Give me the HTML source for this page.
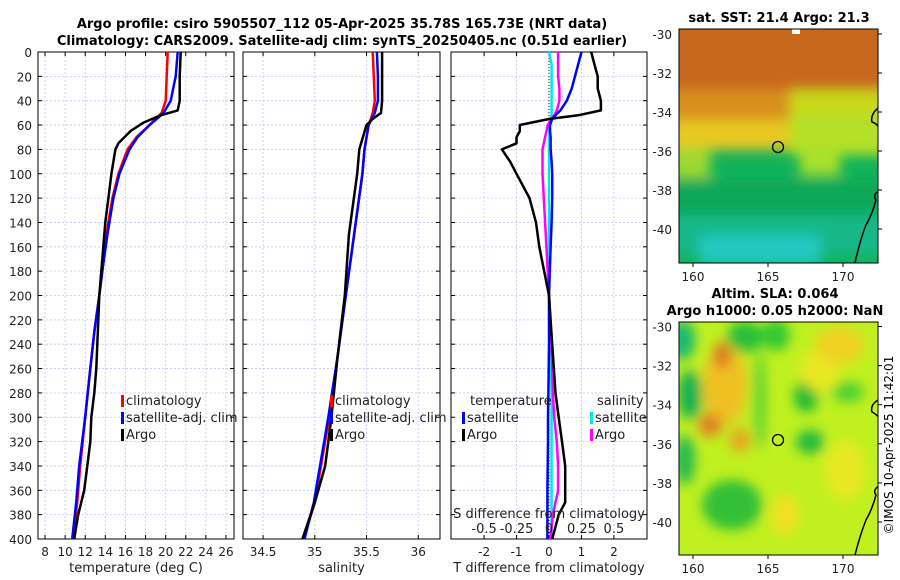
<!DOCTYPE html>
<html><head><meta charset="utf-8">
<style>
body{margin:0;background:#fff;}
svg{display:block;font-family:"DejaVu Sans","Liberation Sans",sans-serif;}
</style></head>
<body>
<svg id="fig" width="900" height="580" viewBox="0 0 900 580" xmlns="http://www.w3.org/2000/svg">
<defs>
<filter id="blur6" x="-20%" y="-20%" width="140%" height="140%"><feGaussianBlur stdDeviation="6"/></filter>
<clipPath id="m1clip"><rect x="679" y="29" width="199" height="234"/></clipPath>
<clipPath id="m2clip"><rect x="679" y="322" width="199" height="233"/></clipPath>
</defs>
<text x="342" y="28" font-size="13" font-weight="bold" text-anchor="middle">Argo profile: csiro 5905507_112 05-Apr-2025 35.78S 165.73E (NRT data)</text>
<text x="342" y="45" font-size="13" font-weight="bold" text-anchor="middle">Climatology: CARS2009. Satellite-adj clim: synTS_20250405.nc (0.51d earlier)</text>
<g id="panels"></g>

<g>
<g clip-path="url(#m1clip)">
<rect x="679" y="29" width="199" height="234" fill="#12b35a"/>
<g filter="url(#blur6)">
<rect x="670" y="20" width="220" height="80" fill="#c8681c"/>
<rect x="670" y="90" width="130" height="40" fill="#d8901e"/>
<rect x="790" y="90" width="100" height="30" fill="#c8d81c"/>
<rect x="670" y="120" width="130" height="30" fill="#e8c820"/>
<rect x="790" y="115" width="100" height="40" fill="#b4e028"/>
<rect x="670" y="148" width="40" height="30" fill="#9ed832"/>
<rect x="800" y="150" width="40" height="25" fill="#a8e02a"/>
<rect x="670" y="180" width="220" height="35" fill="#10a858"/>
<rect x="670" y="215" width="220" height="40" fill="#14b88a"/>
<rect x="700" y="235" width="120" height="30" fill="#20c8c0"/>
</g>
<rect x="792" y="29" width="8" height="5" fill="#fff"/>
<path d="M878 108 Q870 115 872 122 Q878 124 880 130" fill="none" stroke="#000" stroke-width="1.5"/>
<path d="M880 190 Q872 195 876 200 Q872 215 866 225 Q860 240 855 263" fill="none" stroke="#000" stroke-width="1.5"/>
<circle cx="778" cy="147" r="5.5" fill="none" stroke="#000" stroke-width="1.3"/>
</g>
<rect x="679" y="29" width="199" height="234" fill="none" stroke="#000"/>
</g>
<text x="779" y="22" font-size="13" font-weight="bold" text-anchor="middle">sat. SST: 21.4 Argo: 21.3</text>

<g>
<g clip-path="url(#m2clip)">
<rect x="679" y="322" width="199" height="233" fill="#c0f020"/>
<g filter="url(#blur6)">
<ellipse cx="683" cy="340" rx="12" ry="20" fill="#14b870"/>
<ellipse cx="690" cy="395" rx="12" ry="25" fill="#18b050"/>
<ellipse cx="685" cy="460" rx="10" ry="25" fill="#20b850"/>
<ellipse cx="745" cy="337" rx="18" ry="16" fill="#28c038"/>
<ellipse cx="776" cy="335" rx="14" ry="16" fill="#30c830"/>
<ellipse cx="806" cy="396" rx="12" ry="16" fill="#18b838"/>
<ellipse cx="810" cy="442" rx="14" ry="12" fill="#20b840"/>
<ellipse cx="820" cy="370" rx="20" ry="22" fill="#e8e820"/>
<ellipse cx="840" cy="345" rx="25" ry="18" fill="#f0d020"/>
<ellipse cx="848" cy="392" rx="16" ry="10" fill="#48d030"/>
<ellipse cx="725" cy="385" rx="22" ry="40" fill="#f0c020"/>
<ellipse cx="722" cy="355" rx="8" ry="14" fill="#e07020"/>
<ellipse cx="710" cy="425" rx="12" ry="12" fill="#e08020"/>
<ellipse cx="740" cy="440" rx="10" ry="12" fill="#e8a020"/>
<ellipse cx="732" cy="505" rx="30" ry="25" fill="#30c038"/>
<ellipse cx="785" cy="515" rx="15" ry="20" fill="#f0e020"/>
<ellipse cx="845" cy="470" rx="20" ry="30" fill="#e8e820"/>
<ellipse cx="760" cy="400" rx="6" ry="50" fill="#60d030"/>
</g>
<path d="M878 400 Q870 405 872 412 Q878 415 880 420" fill="none" stroke="#000" stroke-width="1.5"/>
<path d="M880 485 Q872 490 876 495 Q872 510 866 520 Q860 535 855 555" fill="none" stroke="#000" stroke-width="1.5"/>
<circle cx="778" cy="440" r="5.5" fill="none" stroke="#000" stroke-width="1.3"/>
</g>
<rect x="679" y="322" width="199" height="233" fill="none" stroke="#000"/>
</g>
<text x="775" y="298" font-size="13" font-weight="bold" text-anchor="middle">Altim. SLA: 0.064</text>
<text x="775" y="315" font-size="13" font-weight="bold" text-anchor="middle">Argo h1000: 0.05 h2000: NaN</text>
<text x="0" y="0" font-size="12" text-anchor="middle" transform="translate(893,445) rotate(-90)">©IMOS 10-Apr-2025 11:42:01</text>
<g id="mapaxes"></g>
</svg>
<script>
const depthT = [0,20,40,48,52,58,65,75,80,90,100,120,140,160,180,200,220,240,260,280,300,320,340,360,370,380,400];
const tempArgo = [21.5,21.4,21.4,21.2,19.5,17.8,16.5,15.3,15.0,14.8,14.6,14.3,14.0,13.8,13.6,13.4,13.3,13.2,13.1,12.9,12.6,12.5,12.2,11.9,11.6,11.3,10.9];
const depthC = [0,20,40,50,60,70,80,100,120,150,180,200,230,260,300,340,370,400];
const tempClim = [20.2,20.1,20.0,19.6,18.4,17.1,16.2,15.3,14.7,14.1,13.7,13.4,12.9,12.5,12.0,11.5,11.2,10.8];
const tempSat = [21.2,21.0,20.5,19.8,18.4,17.2,16.4,15.4,14.8,14.2,13.7,13.4,12.9,12.5,12.0,11.4,11.1,10.7];
const depthS = [0,20,40,50,55,60,80,100,150,200,250,300,340,370,400];
const salClim = [35.56,35.57,35.58,35.56,35.54,35.52,35.48,35.46,35.38,35.30,35.22,35.14,35.06,35.00,34.89];
const salSat = [35.60,35.61,35.61,35.58,35.55,35.52,35.48,35.46,35.38,35.30,35.22,35.13,35.05,34.99,34.90];
const salArgo = [35.65,35.65,35.65,35.64,35.56,35.50,35.43,35.41,35.33,35.29,35.22,35.16,35.10,35.00,34.88];
const depthD = [0,10,20,30,40,48,52,55,60,65,70,75,80,90,100,120,140,160,200,240,280,300,320,340,360,370,380,390,400];
const dTArgo = [1.3,1.4,1.5,1.5,1.6,1.6,0.9,0.0,-0.9,-0.9,-1.0,-1.0,-1.45,-1.2,-1.0,-0.6,-0.4,-0.3,0.0,0.1,0.2,0.3,0.4,0.5,0.5,0.5,0.3,0.2,0.1];
const dTSat = [1.0,0.9,0.8,0.7,0.55,0.35,0.2,0.1,0.03,0.03,0.05,0.05,0.05,0.08,0.1,0.1,0.08,0.05,0.0,0.0,-0.02,-0.03,-0.03,-0.04,-0.05,-0.05,-0.05,-0.05,-0.05];
const dSSat = [0.0,0.02,0.02,0.02,0.02,0.02,0.02,0.01,0.0,0.0,0.0,0.0,0.0,0.0,0.0,0.0,0.0,0.0,0.0,0.01,0.02,0.02,0.02,0.02,0.02,0.02,0.02,0.02,0.02];
const dSArgo = [0.07,0.07,0.07,0.08,0.08,0.06,0.04,0.02,-0.01,-0.02,-0.03,-0.04,-0.05,-0.05,-0.05,-0.04,-0.03,-0.02,0.0,0.02,0.03,0.04,0.06,0.07,0.07,0.05,0.03,0.02,0.01];
const depthTicks = [0,20,40,60,80,100,120,140,160,180,200,220,240,260,280,300,320,340,360,380,400];
const tTicks = [8,10,12,14,16,18,20,22,24,26];
const sTicks = [34.5,35,35.5,36];
const dTTicks = [-2,-1,0,1,2];
const dSTickLabels = ["-0.5","-0.25","0","0.25","0.5"];
const latTicks = [-30,-32,-34,-36,-38,-40];
const lonTicks = [160,165,170];

const NS="http://www.w3.org/2000/svg";
const svgP=document.getElementById('panels');
function el(tag,attrs,parent){const e=document.createElementNS(NS,tag);for(const k in attrs)e.setAttribute(k,attrs[k]);(parent||svgP).appendChild(e);return e;}
const yTopPx=52,yBotPx=539;
const yS=d=>yTopPx+(yBotPx-yTopPx)*d/400;

function panel(name,x0,x1,xmin,xmax,ticks,tickLbl,xlabel){
  const g=el('g',{});
  
  
  const xs=v=>x0+(x1-x0)*(v-xmin)/(xmax-xmin);
  ticks.forEach(v=>{const l=el('line',{x1:xs(v),x2:xs(v),y1:yTopPx,y2:yBotPx,stroke:'#c0c8e8','stroke-dasharray':'2,2','stroke-width':0.8},g);
    
    });
  depthTicks.forEach(d=>{const l=el('line',{x1:x0,x2:x1,y1:yS(d),y2:yS(d),stroke:'#c0c8e8','stroke-dasharray':'2,2','stroke-width':0.8},g);
    
    
    el('line',{x1:x0,x2:x0+4,y1:yS(d),y2:yS(d),stroke:'#000'},g);el('line',{x1:x1,x2:x1-4,y1:yS(d),y2:yS(d),stroke:'#000'},g);});
  ticks.forEach((v,i)=>{el('line',{x1:xs(v),x2:xs(v),y1:yBotPx,y2:yBotPx-4,stroke:'#000'},g);el('line',{x1:xs(v),x2:xs(v),y1:yTopPx,y2:yTopPx+4,stroke:'#000'},g);
    const t=el('text',{x:xs(v),y:yBotPx+17,'font-size':12,'text-anchor':'middle',fill:'#222'},g);t.textContent=tickLbl?tickLbl[i]:String(v);
    
    });
  el('rect',{x:x0,y:yTopPx,width:x1-x0,height:yBotPx-yTopPx,fill:'none',stroke:'#000'},g);
  const xl=el('text',{x:(x0+x1)/2,y:572,'font-size':13,'text-anchor':'middle',fill:'#222'},g);xl.textContent=xlabel;
  
  
  return {g,xs};
}
function line(p,depths,vals,color,name,w){
  const pts=depths.map((d,i)=>p.xs(vals[i]).toFixed(1)+','+yS(d).toFixed(1)).join(' ');
  const l=el('polyline',{points:pts,fill:'none',stroke:color,'stroke-width':w||2.5,'stroke-linejoin':'round'},p.g);
  
  
}
function legend(p,x,yy,color,label){
  el('rect',{x:x,y:yy-10,width:3,height:12,fill:color},p.g);
  const t=el('text',{x:x+5,y:yy,'font-size':13,fill:'#222'},p.g);t.textContent=label;
  
  
}
const p1=panel('temperature-panel',38,234,7.3,26.8,tTicks,null,'temperature (deg C)');
depthTicks.forEach(d=>{const t=el('text',{x:32,y:yS(d)+5,'font-size':12,'text-anchor':'end',fill:'#222'});t.textContent=d;
  
  });
line(p1,depthC,tempClim,'#ff0000','temp-climatology-line');
line(p1,depthC,tempSat,'#0000ff','temp-satellite-line');
line(p1,depthT,tempArgo,'#000','temp-argo-line');
legend(p1,121,405,'#f00','climatology');legend(p1,121,422,'#00f','satellite-adj. clim');legend(p1,121,439,'#000','Argo');
const p2=panel('salinity-panel',243,440,34.306,36.21,sTicks,null,'salinity');
line(p2,depthS,salClim,'#ff0000','sal-climatology-line');
line(p2,depthS,salSat,'#0000ff','sal-satellite-line');
line(p2,depthS,salArgo,'#000','sal-argo-line');
legend(p2,330,405,'#f00','climatology');legend(p2,330,422,'#00f','satellite-adj. clim');legend(p2,330,439,'#000','Argo');
const p3=panel('difference-panel',451,647,-3.02,3.02,dTTicks,null,'T difference from climatology');
el('line',{x1:p3.xs(0),x2:p3.xs(0),y1:yTopPx,y2:yBotPx,stroke:'#444','stroke-dasharray':'1,2','stroke-width':1.2},p3.g);
const sx=v=>v*4;
line(p3,depthD,dSSat.map(sx),'#00e8e8','sal-diff-satellite-line');
line(p3,depthD,dSArgo.map(sx),'#ff00ff','sal-diff-argo-line');
line(p3,depthD,dTSat,'#0000ff','temp-diff-satellite-line');
line(p3,depthD,dTArgo,'#000','temp-diff-argo-line');
const lt=(x,yy,s,n,fs)=>{const t=el('text',{x:x,y:yy,'font-size':fs||13,fill:'#222'},p3.g);t.textContent=s;
  
  return t;};
lt(470,405,'temperature','legend-title-temperature');lt(597,405,'salinity','legend-title-salinity');
legend(p3,462,422,'#00f','satellite');legend(p3,462,439,'#000','Argo');
legend(p3,590,422,'#00e8e8','satellite');legend(p3,590,439,'#f0f','Argo');
const st=lt(549,518,'S difference from climatology','s-axis-title');st.setAttribute('text-anchor','middle');
dTTicks.forEach((v,i)=>{const t=lt(p3.xs(v),533,dSTickLabels[i],'s-tick-label');t.setAttribute('text-anchor','middle');});
const ma=document.getElementById('mapaxes');
function mapAxes(y30,y40,yB){
  const ly=l=>y30+(y40-y30)*(l+30)/(-10);
  latTicks.forEach(l=>{const t=el('text',{x:672,y:ly(l)+5,'font-size':12,'text-anchor':'end',fill:'#222'},ma);t.textContent=l;
    
    
    el('line',{x1:878,x2:882,y1:ly(l),y2:ly(l),stroke:'#000'},ma);});
  const lx=v=>693+(843-693)*(v-160)/10;
  lonTicks.forEach(v=>{const t=el('text',{x:lx(v),y:yB+18,'font-size':12,'text-anchor':'middle',fill:'#222'},ma);t.textContent=v;
    
    
    el('line',{x1:lx(v),x2:lx(v),y1:yB,y2:yB+4,stroke:'#000'},ma);});
}
mapAxes(34,229,263);
mapAxes(326.5,522,555);
</script>
</body></html>
